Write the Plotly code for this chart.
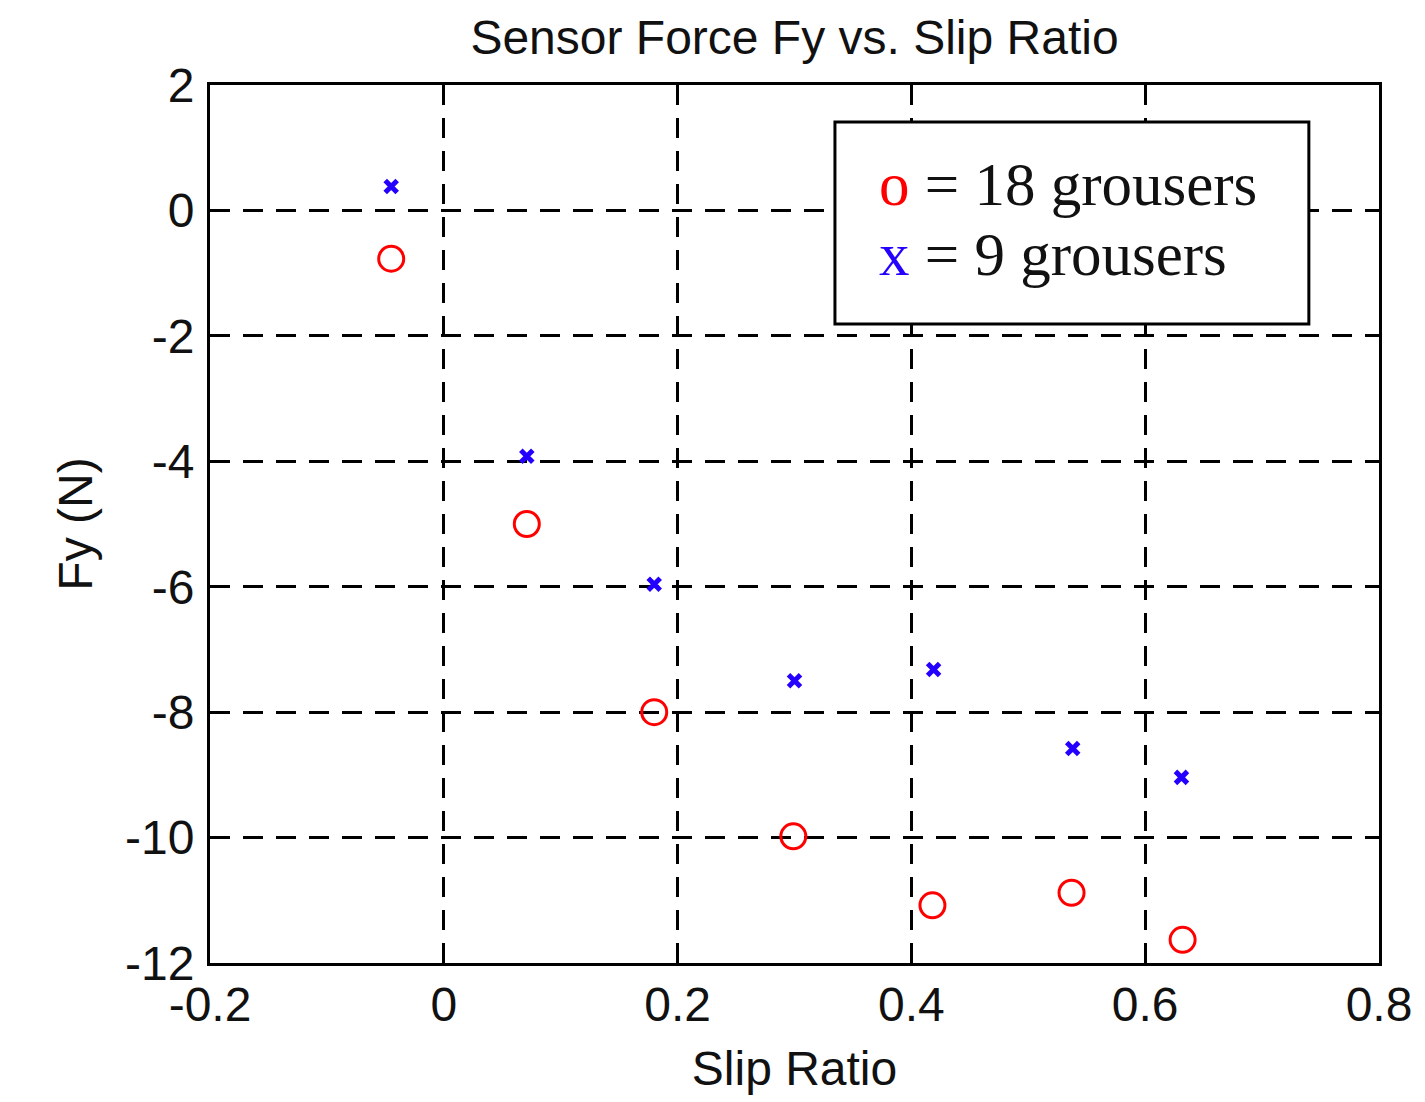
import plotly.graph_objects as go

# Data
slip_18 = [-0.045, 0.071, 0.180, 0.299, 0.418, 0.537, 0.632]
fy_18 = [-0.77, -5.00, -8.00, -9.98, -11.08, -10.88, -11.63]
slip_9 = [-0.045, 0.071, 0.180, 0.300, 0.419, 0.538, 0.631]
fy_9 = [0.38, -3.92, -5.96, -7.50, -7.32, -8.58, -9.04]

series_names = ["18 grousers", "9 grousers"]
series_symbols = ["o", "x"]
series_colors = ["#FF0000", "#2400FF"]

x_tickvals = [-0.2, 0, 0.2, 0.4, 0.6, 0.8]
x_ticktext = ["-0.2", "0", "0.2", "0.4", "0.6", "0.8"]
y_tickvals = [2, 0, -2, -4, -6, -8, -10, -12]
y_ticktext = ["2", "0", "-2", "-4", "-6", "-8", "-10", "-12"]

SANS = "Liberation Sans, Arial, sans-serif"
SERIF = "Liberation Serif, Times New Roman, serif"

fig = go.Figure()
fig.add_trace(go.Scatter(
    x=slip_18, y=fy_18, mode="markers", name=series_names[0],
    marker=dict(symbol="circle-open", size=25, color=series_colors[0],
                line=dict(width=3, color=series_colors[0])),
    showlegend=False))
fig.add_trace(go.Scatter(
    x=slip_9, y=fy_9, mode="markers", name=series_names[1],
    marker=dict(symbol="x-thin-open", size=12, color=series_colors[1],
                line=dict(width=5, color=series_colors[1])),
    showlegend=False))

axis_common = dict(
    showline=True, linecolor="black", linewidth=3, mirror="ticks",
    ticks="inside", ticklen=8, tickwidth=2, tickcolor="black",
    showgrid=True, gridcolor="black", gridwidth=3, griddash="20px,13px",
    zeroline=False,
    tickfont=dict(family=SANS, size=48, color="#111"),
    title_font=dict(family=SANS, size=48, color="#111"),
)

fig.update_xaxes(range=[-0.2, 0.8], tickvals=x_tickvals, ticktext=x_ticktext,
                 title_text="Slip Ratio", title_standoff=22, ticklabelstandoff=-3,
                 **axis_common)
fig.update_yaxes(range=[-12, 2], tickvals=y_tickvals, ticktext=y_ticktext,
                 title_text="Fy (N)", title_standoff=18, ticklabelstandoff=3,
                 **axis_common)

# Legend box drawn as in the original (text-style markers)
fig.add_shape(type="rect", xref="paper", yref="paper",
              x0=0.5346, x1=0.940, y0=0.7278, y1=0.9579,
              line=dict(color="black", width=3), fillcolor="white", layer="above")
legend_y = [0.8865, 0.807]
for i in range(2):
    fig.add_annotation(
        xref="paper", yref="paper", x=0.571, y=legend_y[i],
        xanchor="left", yanchor="middle", showarrow=False,
        text=f"<span style='color:{series_colors[i]}'>{series_symbols[i]}</span> = {series_names[i]}",
        font=dict(family=SERIF, size=61, color="#111"))

fig.update_layout(
    width=1417, height=1094,
    margin=dict(l=202, r=46, t=77, b=139),
    paper_bgcolor="white", plot_bgcolor="white",
    title=dict(text="Sensor Force Fy vs. Slip Ratio", xref="paper", x=0.5,
               xanchor="center", yref="container", y=0.9735, yanchor="middle",
               font=dict(family=SANS, size=48, color="#111")),
)

fig.write_html("out.html")
